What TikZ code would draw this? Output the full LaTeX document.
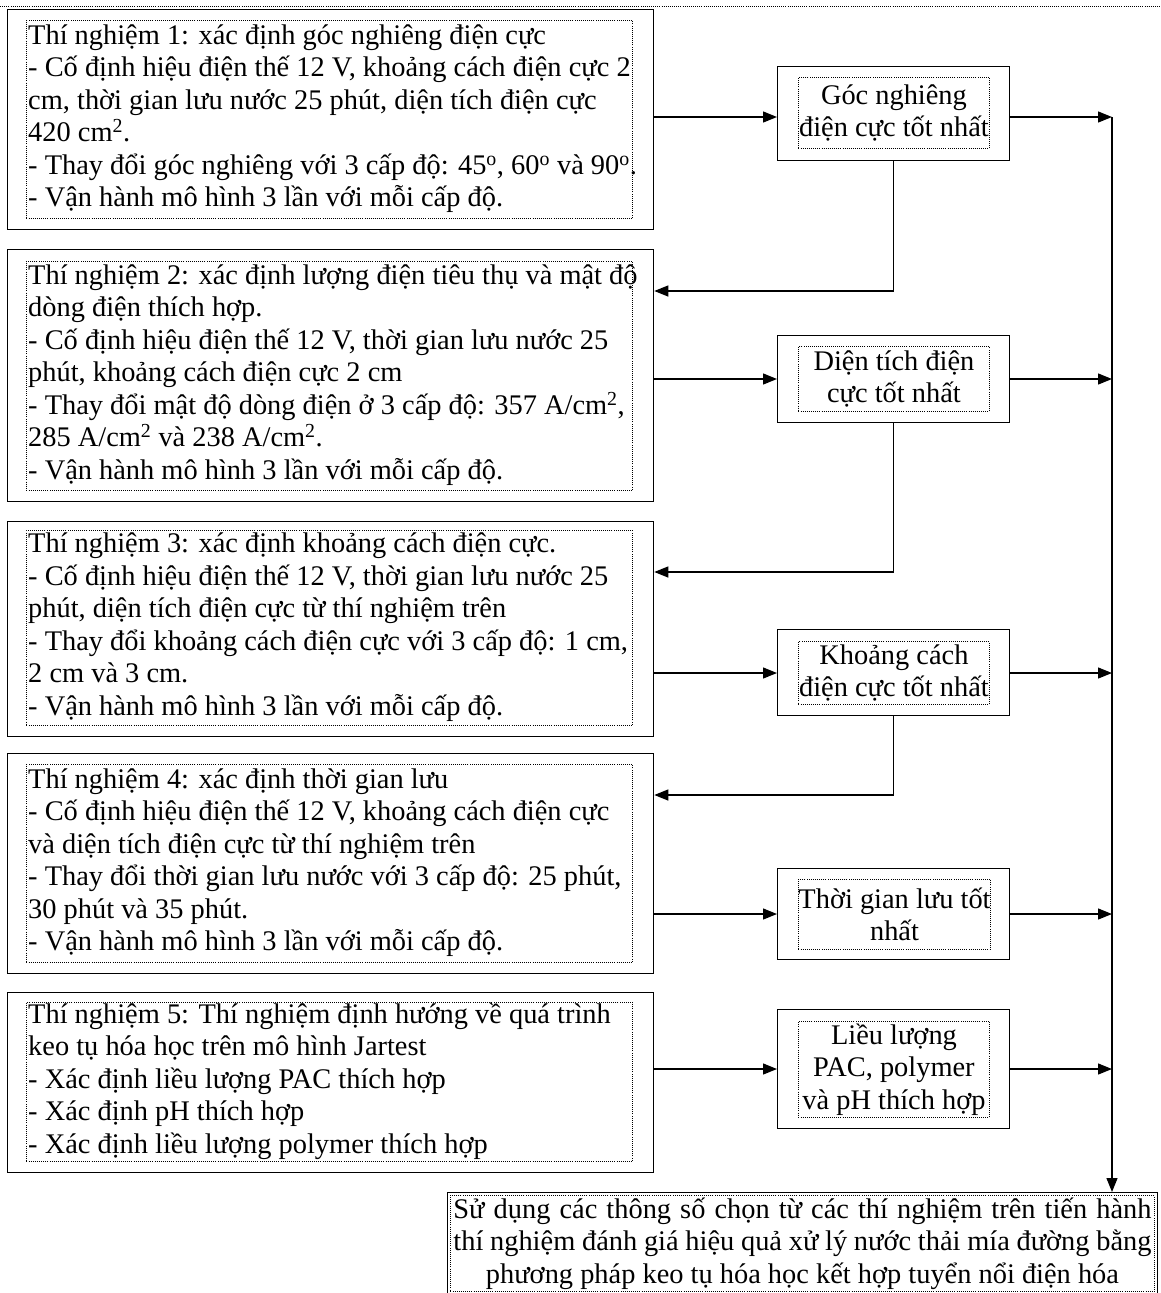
\documentclass[tikz,border=0pt]{standalone}
\usepackage{fontspec}
\setmainfont{Liberation Serif}
\usetikzlibrary{arrows.meta,calc}
\newcommand{\sq}{\textsuperscript{2}}
\newcommand{\dg}{\textsuperscript{o}}
\tikzset{
  outerbox/.style={draw, line width=1.3pt, inner sep=0pt, anchor=north west},
  dotbox/.style={draw, line width=0.9pt, dash pattern=on 0.9pt off 1.2pt, inner sep=0pt, anchor=north west},
  txt/.style={font=\fontsize{28.4}{32.5}\selectfont, align=left, inner sep=0pt, anchor=west},
  ctxt/.style={dotbox, font=\fontsize{28.4}{32.5}\selectfont, align=center},
  arr/.style={line width=1.3pt, -{Triangle[length=14pt,width=11pt]}},
  ln/.style={line width=1.3pt}
}
\begin{document}
\begin{tikzpicture}[x=1pt,y=-1pt]
\useasboundingbox (0,0) rectangle (1160,1293);
\draw[line width=0.9pt, dash pattern=on 0.9pt off 1.2pt] (0,6) -- (1160,6);

% left boxes
\node[outerbox, minimum width=646.5pt, minimum height=220pt] (L1) at (6.5,9) {};
\node[dotbox, minimum width=606pt, minimum height=198pt] (I1) at (26,20) {};
\node[txt] (T1) at ($(I1.west)+(2,-1)$) {Thí nghiệm 1: xác định góc nghiêng điện cực\\
- Cố định hiệu điện thế 12 V, khoảng cách điện cực 2\\
cm, thời gian lưu nước 25 phút, diện tích điện cực\\
420 cm\sq.\\
- Thay đổi góc nghiêng với 3 cấp độ: 45\dg, 60\dg{} và 90\dg.\\
- Vận hành mô hình 3 lần với mỗi cấp độ.};

\node[outerbox, minimum width=646.5pt, minimum height=252pt] (L2) at (6.5,249) {};
\node[dotbox, minimum width=606pt, minimum height=229pt] (I2) at (26,261) {};
\node[txt] (T2) at ($(I2.west)+(2,-1)$) {Thí nghiệm 2: xác định lượng điện tiêu thụ và mật độ\\
dòng điện thích hợp.\\
- Cố định hiệu điện thế 12 V, thời gian lưu nước 25\\
phút, khoảng cách điện cực 2 cm\\
- Thay đổi mật độ dòng điện ở 3 cấp độ: 357 A/cm\sq,\\
285 A/cm\sq{} và 238 A/cm\sq.\\
- Vận hành mô hình 3 lần với mỗi cấp độ.};

\node[outerbox, minimum width=646.5pt, minimum height=215pt] (L3) at (6.5,521) {};
\node[dotbox, minimum width=606pt, minimum height=195pt] (I3) at (26,530) {};
\node[txt] (T3) at ($(I3.west)+(2,-1)$) {Thí nghiệm 3: xác định khoảng cách điện cực.\\
- Cố định hiệu điện thế 12 V, thời gian lưu nước 25\\
phút, diện tích điện cực từ thí nghiệm trên\\
- Thay đổi khoảng cách điện cực với 3 cấp độ: 1 cm,\\
2 cm và 3 cm.\\
- Vận hành mô hình 3 lần với mỗi cấp độ.};

\node[outerbox, minimum width=646.5pt, minimum height=220pt] (L4) at (6.5,753) {};
\node[dotbox, minimum width=606pt, minimum height=198pt] (I4) at (26,764) {};
\node[txt] (T4) at ($(I4.west)+(2,-1)$) {Thí nghiệm 4: xác định thời gian lưu\\
- Cố định hiệu điện thế 12 V, khoảng cách điện cực\\
và diện tích điện cực từ thí nghiệm trên\\
- Thay đổi thời gian lưu nước với 3 cấp độ: 25 phút,\\
30 phút và 35 phút.\\
- Vận hành mô hình 3 lần với mỗi cấp độ.};

\node[outerbox, minimum width=646.5pt, minimum height=180pt] (L5) at (6.5,992) {};
\node[dotbox, minimum width=606pt, minimum height=159pt] (I5) at (26,1002) {};
\node[txt] (T5) at ($(I5.west)+(2,-1)$) {Thí nghiệm 5: Thí nghiệm định hướng về quá trình\\
keo tụ hóa học trên mô hình Jartest\\
- Xác định liều lượng PAC thích hợp\\
- Xác định pH thích hợp\\
- Xác định liều lượng polymer thích hợp};

% right boxes
\node[outerbox, minimum width=232pt, minimum height=94pt] (R1) at (777,66) {};
\node[ctxt, minimum width=191pt, minimum height=71pt] (Q1) at (798,77) {Góc nghiêng\\điện cực tốt nhất};
\node[outerbox, minimum width=232pt, minimum height=87pt] (R2) at (777,335) {};
\node[ctxt, minimum width=191pt, minimum height=65pt] (Q2) at (798,346) {Diện tích điện\\cực tốt nhất};
\node[outerbox, minimum width=232pt, minimum height=86pt] (R3) at (777,629) {};
\node[ctxt, minimum width=191pt, minimum height=63pt] (Q3) at (798,641) {Khoảng cách\\điện cực tốt nhất};
\node[outerbox, minimum width=232pt, minimum height=91pt] (R4) at (777,868) {};
\node[ctxt, minimum width=191pt, minimum height=70pt] (Q4) at (798,879) {Thời gian lưu tốt\\nhất};
\node[outerbox, minimum width=232pt, minimum height=119pt] (R5) at (777,1009) {};
\node[ctxt, minimum width=191pt, minimum height=96pt] (Q5) at (798,1021) {Liều lượng\\PAC, polymer\\và pH thích hợp};

% final box
\node[outerbox, minimum width=710pt, minimum height=101pt] (F) at (447,1192) {};
\node[ctxt, minimum width=704pt, minimum height=96pt] (G) at (450,1195) {\makebox[698pt][s]{Sử dụng các thông số chọn từ các thí nghiệm trên tiến hành}\\\makebox[698pt][s]{thí nghiệm đánh giá hiệu quả xử lý nước thải mía đường bằng}\\phương pháp keo tụ hóa học kết hợp tuyển nổi điện hóa};

% helper coordinates
\coordinate (a1) at (0,117);
\coordinate (a2) at (0,379);
\coordinate (a3) at (0,673);
\coordinate (a4) at (0,914);
\coordinate (a5) at (0,1069);
\coordinate (c1) at (0,291);
\coordinate (c2) at (0,572);
\coordinate (c3) at (0,795);
\coordinate (bus) at (1112,0);

% left to right
\draw[arr] (L1.east |- a1) -- (R1.west |- a1);
\draw[arr] (L2.east |- a2) -- (R2.west |- a2);
\draw[arr] (L3.east |- a3) -- (R3.west |- a3);
\draw[arr] (L4.east |- a4) -- (R4.west |- a4);
\draw[arr] (L5.east |- a5) -- (R5.west |- a5);

% feedback
\draw[arr] (R1.south) |- (L2.east |- c1);
\draw[arr] (R2.south) |- (L3.east |- c2);
\draw[arr] (R3.south) |- (L4.east |- c3);

% to bus
\draw[arr] (R1.east |- a1) -- (bus |- a1);
\draw[arr] (R2.east |- a2) -- (bus |- a2);
\draw[arr] (R3.east |- a3) -- (bus |- a3);
\draw[arr] (R4.east |- a4) -- (bus |- a4);
\draw[arr] (R5.east |- a5) -- (bus |- a5);
\draw[arr] (bus |- a1) -- (bus |- F.north);
\end{tikzpicture}
\end{document}
